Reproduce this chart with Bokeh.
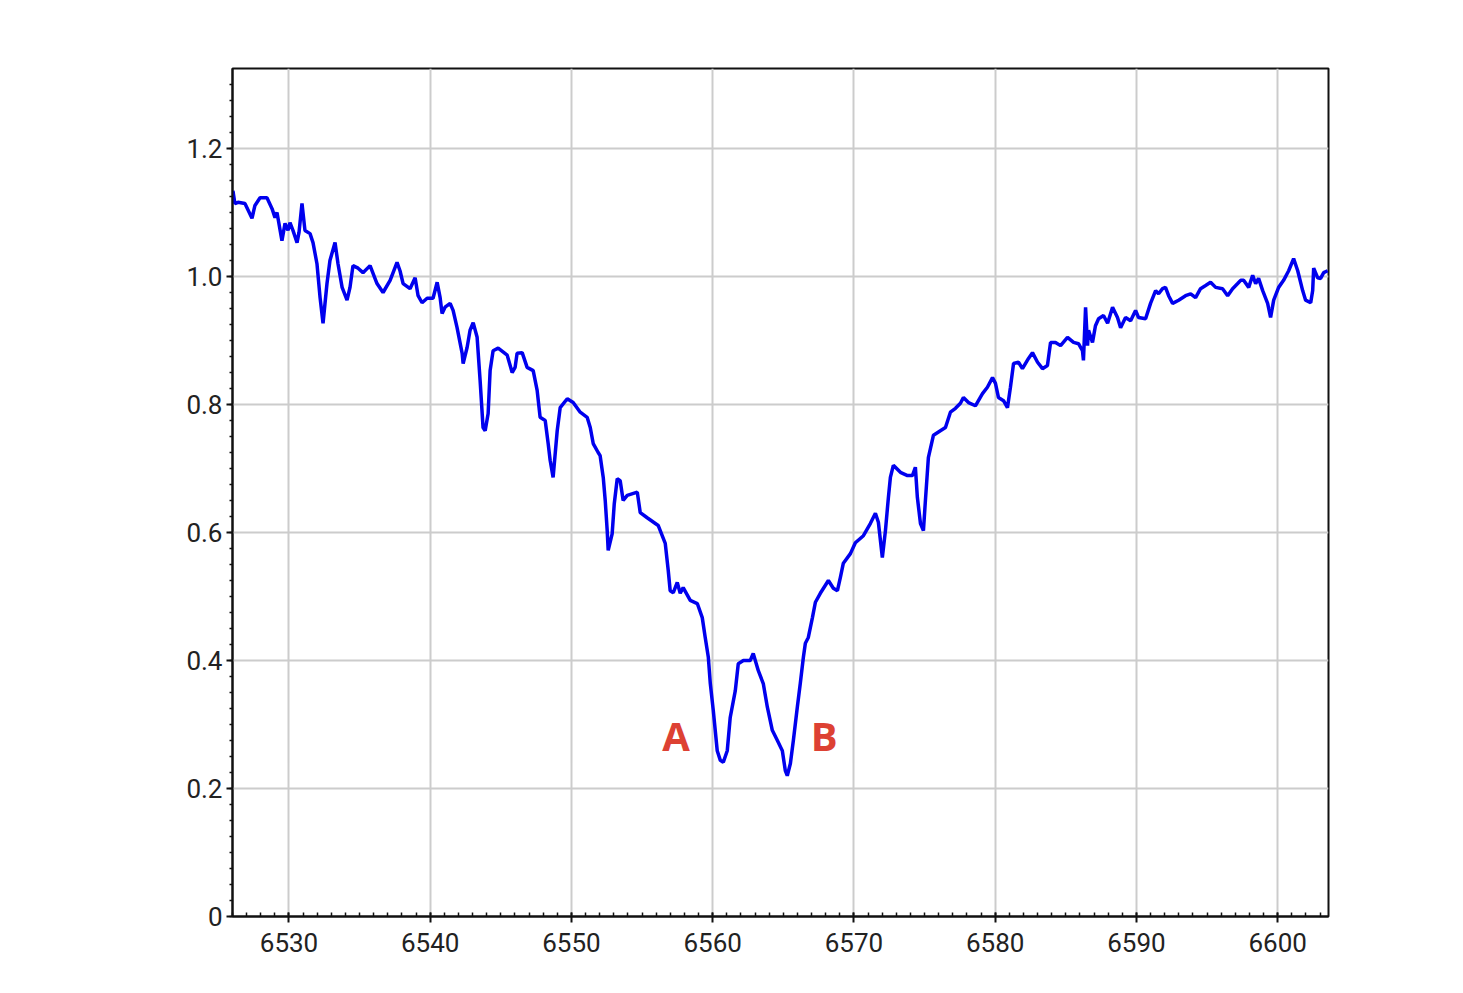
from bokeh.plotting import figure
from bokeh.models import Range1d, SingleIntervalTicker, CustomJSTickFormatter, ColumnDataSource
from bokeh.core.properties import value
from bokeh.embed import file_html
from bokeh.resources import INLINE

# Wavelength (Angstrom) and relative flux
wavelength = [
    6526.03, 6526.17, 6526.39, 6526.88, 6527.38, 6527.59, 6527.95, 6528.44, 6528.80, 6529.01,
    6529.15, 6529.50, 6529.72, 6529.93, 6530.07, 6530.28, 6530.57, 6530.71, 6530.92, 6531.13,
    6531.49, 6531.70, 6531.98, 6532.20, 6532.41, 6532.69, 6532.90, 6533.26, 6533.47, 6533.76,
    6534.11, 6534.32, 6534.53, 6534.89, 6535.24, 6535.74, 6536.23, 6536.66, 6537.16, 6537.65,
    6537.86, 6538.08, 6538.57, 6538.93, 6539.14, 6539.42, 6539.78, 6540.20, 6540.49, 6540.70,
    6540.84, 6541.05, 6541.41, 6541.62, 6541.90, 6542.26, 6542.33, 6542.61, 6542.82, 6543.04,
    6543.32, 6543.53, 6543.74, 6543.89, 6544.10, 6544.24, 6544.45, 6544.81, 6545.45, 6545.80,
    6546.01, 6546.15, 6546.51, 6546.86, 6547.29, 6547.57, 6547.78, 6548.14, 6548.35, 6548.49,
    6548.70, 6548.99, 6549.20, 6549.70, 6550.12, 6550.62, 6551.11, 6551.33, 6551.54, 6551.89,
    6552.03, 6552.25, 6552.39, 6552.53, 6552.60, 6552.88, 6553.03, 6553.24, 6553.45, 6553.66,
    6553.95, 6554.66, 6554.87, 6555.36, 6556.14, 6556.64, 6556.85, 6556.99, 6557.21, 6557.49,
    6557.70, 6557.91, 6558.41, 6558.91, 6559.26, 6559.47, 6559.69, 6559.83, 6560.04, 6560.32,
    6560.54, 6560.75, 6561.03, 6561.24, 6561.60, 6561.81, 6562.17, 6562.66, 6562.87, 6563.23,
    6563.58, 6563.87, 6564.22, 6564.58, 6564.93, 6565.14, 6565.28, 6565.50, 6565.71, 6565.99,
    6566.20, 6566.42, 6566.56, 6566.77, 6567.06, 6567.27, 6567.62, 6568.19, 6568.54, 6568.83,
    6569.04, 6569.25, 6569.75, 6570.10, 6570.67, 6571.16, 6571.52, 6571.73, 6572.01, 6572.23,
    6572.44, 6572.58, 6572.79, 6573.29, 6573.79, 6574.14, 6574.35, 6574.49, 6574.71, 6574.92,
    6575.06, 6575.27, 6575.63, 6576.12, 6576.48, 6576.83, 6577.19, 6577.54, 6577.75, 6578.11,
    6578.60, 6579.10, 6579.45, 6579.81, 6580.02, 6580.23, 6580.59, 6580.87, 6581.08, 6581.30,
    6581.65, 6581.93, 6582.36, 6582.64, 6583.00, 6583.35, 6583.70, 6583.92, 6584.27, 6584.63,
    6585.12, 6585.55, 6585.90, 6586.18, 6586.25, 6586.40, 6586.54, 6586.61, 6586.89, 6587.10,
    6587.32, 6587.67, 6587.96, 6588.31, 6588.66, 6588.88, 6589.23, 6589.59, 6589.94, 6590.15,
    6590.65, 6591.00, 6591.36, 6591.57, 6591.85, 6592.06, 6592.28, 6592.56, 6592.99, 6593.48,
    6593.84, 6594.19, 6594.54, 6594.90, 6595.25, 6595.61, 6596.10, 6596.46, 6596.81, 6597.17,
    6597.38, 6597.59, 6597.95, 6598.23, 6598.44, 6598.65, 6598.94, 6599.29, 6599.50, 6599.72,
    6600.07, 6600.42, 6600.78, 6601.13, 6601.42, 6601.77, 6601.98, 6602.34, 6602.48, 6602.55,
    6602.83, 6603.04, 6603.26, 6603.54,
]
flux = [
    1.134, 1.114, 1.116, 1.114, 1.091, 1.111, 1.123, 1.123, 1.106, 1.092,
    1.100, 1.056, 1.083, 1.072, 1.084, 1.072, 1.053, 1.069, 1.114, 1.072,
    1.067, 1.053, 1.020, 0.967, 0.927, 0.989, 1.025, 1.053, 1.020, 0.983,
    0.963, 0.983, 1.017, 1.013, 1.006, 1.017, 0.989, 0.975, 0.994, 1.022,
    1.009, 0.989, 0.981, 0.998, 0.970, 0.959, 0.966, 0.966, 0.991, 0.967,
    0.942, 0.952, 0.958, 0.947, 0.920, 0.880, 0.864, 0.889, 0.916, 0.928,
    0.905, 0.838, 0.764, 0.759, 0.786, 0.853, 0.884, 0.888, 0.877, 0.850,
    0.858, 0.880, 0.881, 0.858, 0.853, 0.822, 0.780, 0.775, 0.739, 0.713,
    0.686, 0.759, 0.795, 0.809, 0.803, 0.788, 0.780, 0.764, 0.739, 0.725,
    0.720, 0.686, 0.650, 0.603, 0.572, 0.598, 0.645, 0.684, 0.681, 0.650,
    0.658, 0.663, 0.631, 0.623, 0.611, 0.583, 0.541, 0.509, 0.506, 0.522,
    0.505, 0.514, 0.494, 0.489, 0.467, 0.436, 0.405, 0.364, 0.322, 0.259,
    0.244, 0.241, 0.259, 0.311, 0.353, 0.395, 0.400, 0.400, 0.411, 0.384,
    0.364, 0.327, 0.291, 0.275, 0.259, 0.228, 0.220, 0.239, 0.275, 0.327,
    0.364, 0.405, 0.427, 0.436, 0.467, 0.491, 0.505, 0.525, 0.513, 0.509,
    0.530, 0.552, 0.567, 0.584, 0.595, 0.614, 0.630, 0.616, 0.561, 0.603,
    0.655, 0.686, 0.705, 0.694, 0.689, 0.689, 0.702, 0.655, 0.614, 0.603,
    0.650, 0.717, 0.752, 0.759, 0.764, 0.788, 0.794, 0.802, 0.811, 0.803,
    0.798, 0.817, 0.827, 0.842, 0.833, 0.811, 0.806, 0.795, 0.827, 0.864,
    0.866, 0.856, 0.872, 0.881, 0.866, 0.856, 0.861, 0.897, 0.897, 0.892,
    0.905, 0.897, 0.895, 0.884, 0.869, 0.952, 0.892, 0.916, 0.897, 0.923,
    0.934, 0.939, 0.927, 0.952, 0.936, 0.920, 0.936, 0.931, 0.947, 0.936,
    0.934, 0.958, 0.978, 0.973, 0.981, 0.983, 0.970, 0.958, 0.963, 0.970,
    0.973, 0.967, 0.981, 0.986, 0.991, 0.983, 0.981, 0.970, 0.981, 0.989,
    0.994, 0.994, 0.983, 1.002, 0.989, 0.997, 0.978, 0.958, 0.936, 0.963,
    0.983, 0.994, 1.009, 1.028, 1.009, 0.978, 0.963, 0.959, 0.978, 1.013,
    0.998, 0.997, 1.006, 1.009,
]

label_text = ["A", "B"]
label_x = [6557.4, 6567.9]
label_y = [0.283, 0.283]

p = figure(width=1448, height=975, output_backend="svg", toolbar_location=None,
           x_range=Range1d(6526.0, 6603.6), y_range=Range1d(0, 1.325),
           min_border_left=232, min_border_right=120, min_border_top=68, min_border_bottom=59)

p.background_fill_color = "white"
p.border_fill_color = "white"
p.outline_line_color = "#111111"
p.outline_line_width = 2

p.line(wavelength, flux, line_color="#0000ee", line_width=3.5)

src = ColumnDataSource(dict(x=label_x, y=label_y, t=label_text))
p.text(x="x", y="y", text="t", source=src, text_color="#dd4133",
       text_font=value("Open Sans"), text_font_style="bold", text_font_size="40px",
       text_align="center", text_baseline="middle")

p.xaxis.ticker = SingleIntervalTicker(interval=10, num_minor_ticks=10)
p.yaxis.ticker = SingleIntervalTicker(interval=0.2, num_minor_ticks=8)
p.yaxis.formatter = CustomJSTickFormatter(code="return tick < 1e-9 ? '0' : tick.toFixed(1);")

for ax in (p.xaxis[0], p.yaxis[0]):
    ax.axis_line_color = "#111111"
    ax.axis_line_width = 2
    ax.major_tick_line_color = "#111111"
    ax.major_tick_line_width = 2
    ax.minor_tick_line_color = "#111111"
    ax.minor_tick_line_width = 1.5
    ax.major_label_text_font = "Roboto"
    ax.major_label_text_font_size = "26px"
    ax.major_label_text_color = "#222222"

p.xaxis.major_tick_in = 4
p.xaxis.major_tick_out = 6
p.xaxis.minor_tick_in = 4
p.xaxis.minor_tick_out = 0
p.xaxis.major_label_standoff = 10

p.yaxis.major_tick_in = 0
p.yaxis.major_tick_out = 6
p.yaxis.minor_tick_in = 0
p.yaxis.minor_tick_out = 3
p.yaxis.major_label_standoff = 4

p.xgrid.grid_line_color = "#cccccc"
p.xgrid.grid_line_width = 2
p.ygrid.grid_line_color = "#cccccc"
p.ygrid.grid_line_width = 2

open("out.html", "w").write(file_html(p, INLINE))
